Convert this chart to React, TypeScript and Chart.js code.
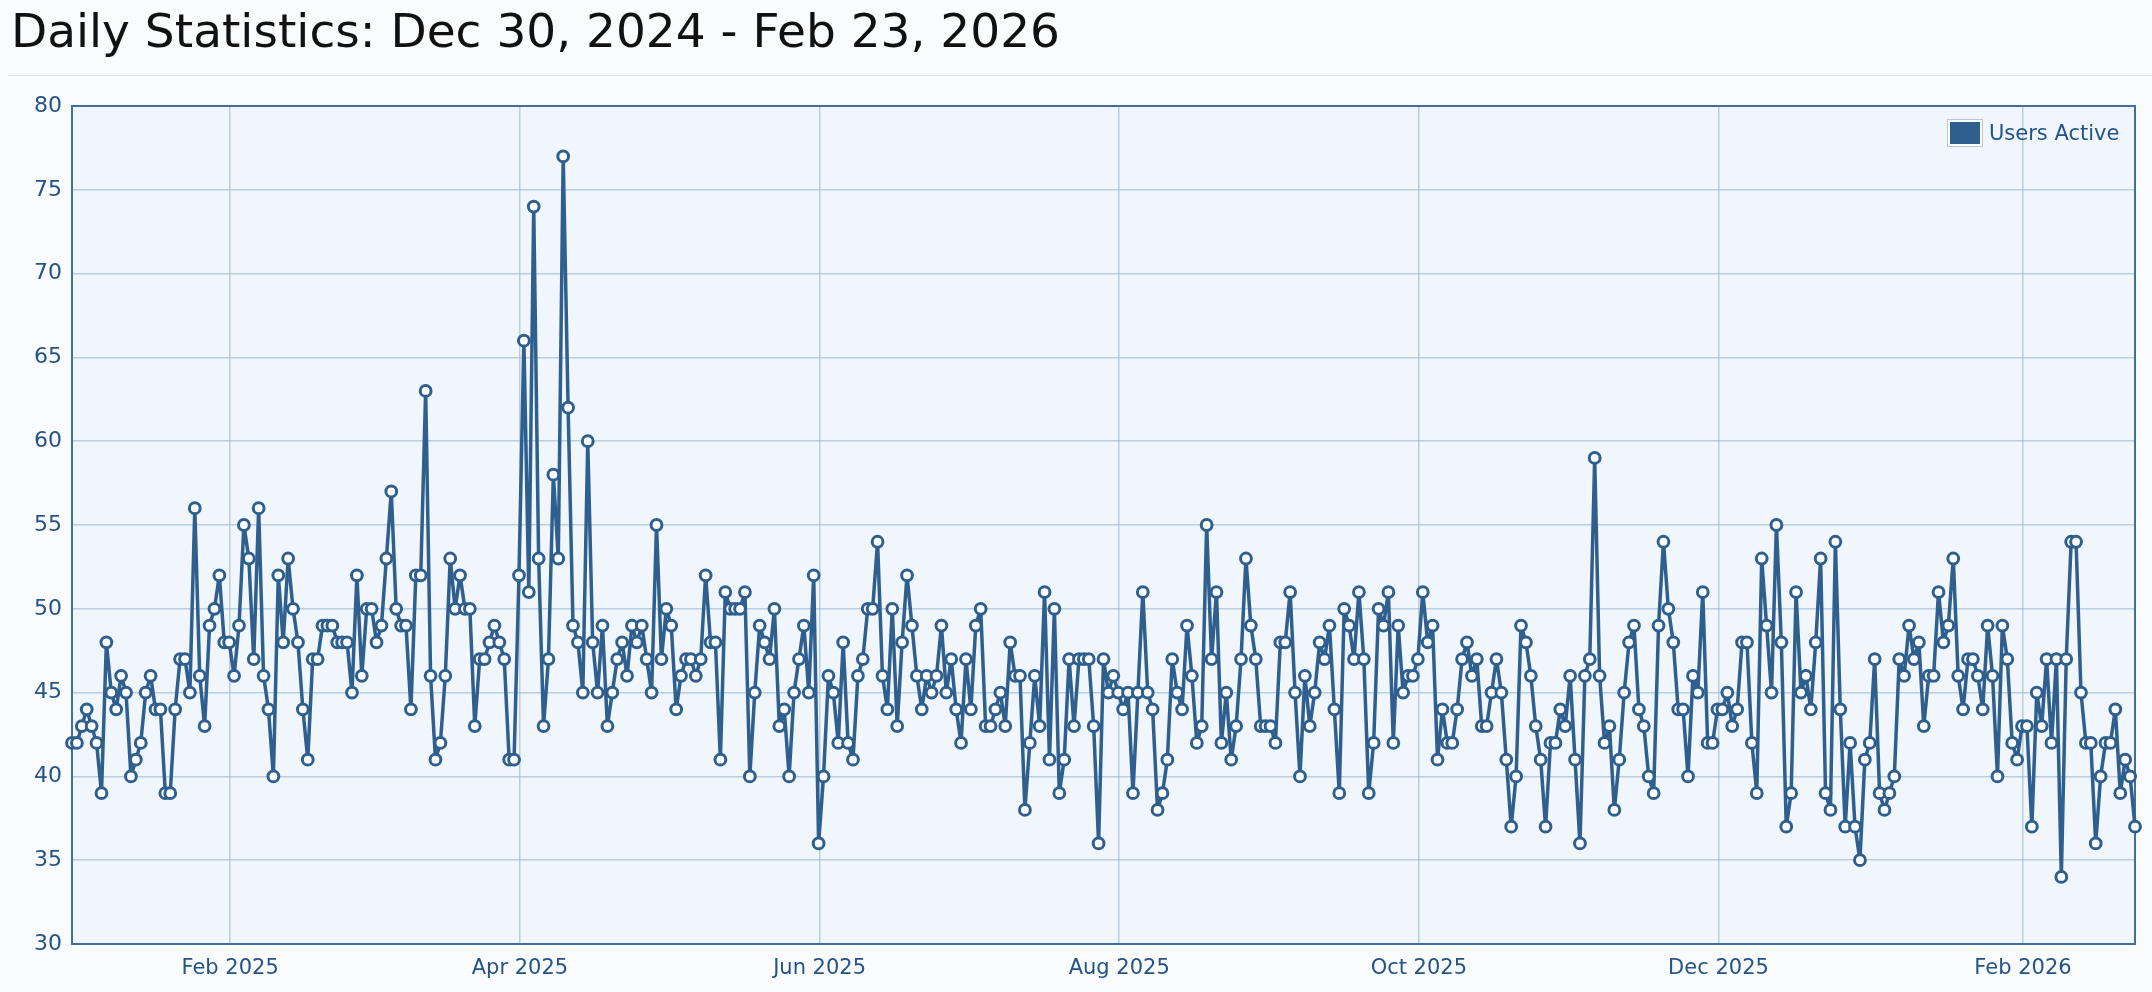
import React, { useEffect, useRef } from 'react';
import { Chart, registerables } from 'chart.js';

Chart.register(...registerables);

// ---- Data (one value per day, Dec 30, 2024 .. Feb 23, 2026) ----
const CHART_TITLE = 'Daily Statistics: Dec 30, 2024 - Feb 23, 2026';
const SERIES_LABEL = 'Users Active';

const USERS_ACTIVE: number[] = [
  // Dec 30 2024 ..
  42, 42, 43, 44, 43, 42, 39, 48, 45, 44, 46, 45, 40, 41, 42, 45, 46, 44, 44, 39, 39, 44, 47, 47, 45, 56, 46, 43, 49, 50, 52, 48, 48, 46, 49, 55,
  53, 47, 56, 46, 44, 40, 52, 48, 53, 50, 48, 44, 41, 47, 47, 49, 49, 49, 48, 48, 48, 45, 52, 46, 50, 50, 48, 49, 53, 57, 50, 49, 49, 44, 52,
  52, 63, 46, 41, 42, 46, 53, 50, 52, 50, 50, 43, 47, 47, 48, 49, 48, 47, 41, 41, 52, 66, 51, 74, 53, 43, 47, 58, 53, 77, 62, 49, 48, 45, 60,
  48, 45, 49, 43, 45, 47, 48, 46, 49, 48, 49, 47, 45, 55, 47, 50, 49, 44, 46, 47, 47, 46, 47, 52, 48, 48, 41, 51, 50, 50, 50, 51, 40,
  45, 49, 48, 47, 50, 43, 44, 40, 45, 47, 49, 45, 52, 36, 40, 46, 45, 42, 48, 42, 41, 46, 47, 50, 50, 54, 46, 44, 50, 43, 48, 52,
  49, 46, 44, 46, 45, 46, 49, 45, 47, 44, 42, 47, 44, 49, 50, 43, 43, 44, 45, 43, 48, 46, 46, 38, 42, 46, 43, 51, 41, 50, 39, 41, 47, 43, 47, 47, 47, 43, 36,
  47, 45, 46, 45, 44, 45, 39, 45, 51, 45, 44, 38, 39, 41, 47, 45, 44, 49, 46, 42, 43, 55, 47, 51, 42, 45, 41, 43, 47, 53, 49, 47, 43, 43,
  43, 42, 48, 48, 51, 45, 40, 46, 43, 45, 48, 47, 49, 44, 39, 50, 49, 47, 51, 47, 39, 42, 50, 49, 51, 42, 49, 45, 46, 46, 47, 51, 48, 49, 41,
  44, 42, 42, 44, 47, 48, 46, 47, 43, 43, 45, 47, 45, 41, 37, 40, 49, 48, 46, 43, 41, 37, 42, 42, 44, 43, 46, 41, 36, 46, 47, 59,
  46, 42, 43, 38, 41, 45, 48, 49, 44, 43, 40, 39, 49, 54, 50, 48, 44, 44, 40, 46, 45, 51, 42, 42, 44, 44, 45, 43, 44, 48, 48, 42, 39, 53, 49,
  45, 55, 48, 37, 39, 51, 45, 46, 44, 48, 53, 39, 38, 54, 44, 37, 42, 37, 35, 41, 42, 47, 39, 38, 39, 40, 47, 46, 49, 47, 48, 43, 46, 46, 51, 48, 49,
  53, 46, 44, 47, 47, 46, 44, 49, 46, 40, 49, 47, 42, 41, 43, 43, 37, 45, 43, 47, 42, 47, 34, 47, 54, 54, 45, 42, 42, 36, 40, 42, 42, 44, 39, 41, 40, 37,
];

// Month tick positions, in days since Dec 30, 2024
const MONTH_TICK_DAYS = [33, 92, 153, 214, 275, 336, 398];
const MONTH_TICK_LABELS = ['Feb 2025', 'Apr 2025', 'Jun 2025', 'Aug 2025', 'Oct 2025', 'Dec 2025', 'Feb 2026'];
const TICK_DAY_SHIFT = -0.8; // month gridlines sit slightly before the day's point
const Y_MIN = 30;
const Y_MAX = 80;
const Y_STEP = 5;

// ---- Styles ----
const LINE_COLOR = '#2e5f8e';
const PLOT_BG = '#f0f6fc';
const PAGE_BG = '#fafbfd';
const FRAME_COLOR = '#3f6f9c';
const GRID_COLOR = 'rgba(150, 180, 208, 0.6)';
const TICK_COLOR = '#245487';
const FONT = 'DejaVu Sans';

const plotFrame = {
  id: 'plotFrame',
  beforeDraw(chart: any) {
    const { ctx, chartArea } = chart;
    if (!chartArea) return;
    ctx.save();
    ctx.fillStyle = PLOT_BG;
    ctx.fillRect(chartArea.left, chartArea.top, chartArea.right - chartArea.left, chartArea.bottom - chartArea.top);
    ctx.restore();
  },
  beforeDatasetsDraw(chart: any) {
    const { ctx, chartArea } = chart;
    if (!chartArea) return;
    ctx.save();
    ctx.strokeStyle = FRAME_COLOR;
    ctx.lineWidth = 2;
    ctx.strokeRect(chartArea.left, chartArea.top, chartArea.right - chartArea.left, chartArea.bottom - chartArea.top);
    ctx.restore();
  },
};

function UsersChart() {
  const ref = useRef<HTMLCanvasElement | null>(null);
  useEffect(() => {
    if (!ref.current) return;
    const points = USERS_ACTIVE.map((v, i) => ({ x: i, y: v }));
    const chart = new Chart(ref.current, {
      type: 'line',
      data: {
        datasets: [
          {
            label: SERIES_LABEL,
            data: points,
            borderColor: LINE_COLOR,
            borderWidth: 3.5,
            borderJoinStyle: 'round',
            borderCapStyle: 'round',
            pointRadius: 5.4,
            pointBorderWidth: 3,
            pointBackgroundColor: '#ffffff',
            pointBorderColor: LINE_COLOR,
            tension: 0,
            clip: 12,
          } as any,
        ],
      },
      options: {
        responsive: false,
        animation: false,
        devicePixelRatio: 1,
        layout: { padding: { top: 106, right: 17, bottom: 0, left: 0 } },
        plugins: {
          legend: { display: false },
          title: { display: false },
          tooltip: { enabled: false },
        },
        scales: {
          x: {
            type: 'linear',
            min: 0,
            max: USERS_ACTIVE.length - 1,
            afterBuildTicks: (scale: any) => {
              scale.ticks = MONTH_TICK_DAYS.map((d) => ({ value: d + TICK_DAY_SHIFT }));
            },
            afterFit: (scale: any) => {
              scale.height = 48;
            },
            border: { display: false },
            grid: { color: GRID_COLOR, lineWidth: 1.5, drawTicks: false },
            ticks: {
              padding: 12,
              color: TICK_COLOR,
              font: { family: FONT, size: 21 },
              maxRotation: 0,
              autoSkip: false,
              callback: (_v: any, i: number) => MONTH_TICK_LABELS[i],
            },
          },
          y: {
            min: Y_MIN,
            max: Y_MAX,
            afterFit: (scale: any) => {
              scale.width = 72;
            },
            border: { display: false },
            grid: { color: GRID_COLOR, lineWidth: 1.5, drawTicks: false },
            ticks: {
              stepSize: Y_STEP,
              padding: 10,
              color: TICK_COLOR,
              font: { family: FONT, size: 22 },
            },
          },
        },
      } as any,
      plugins: [plotFrame],
    });
    return () => chart.destroy();
  }, []);
  return (
    <canvas
      ref={ref}
      width={2152}
      height={992}
      style={{ position: 'absolute', left: 0, top: 0, width: 2152, height: 992 }}
    />
  );
}

export default function App() {
  return (
    <div style={{ position: 'fixed', left: 0, top: 0, width: 2152, height: 992, background: PAGE_BG, overflow: 'hidden' }}>
      <UsersChart />
      <div
        style={{
          position: 'absolute',
          left: 11,
          top: 7,
          fontFamily: FONT,
          fontSize: 47,
          lineHeight: '47px',
          color: '#111111',
          whiteSpace: 'nowrap',
        }}
      >
        {CHART_TITLE}
      </div>
      <div style={{ position: 'absolute', left: 8, right: 0, top: 75, height: 1, background: '#dce3ea' }} />
      <div
        style={{
          position: 'absolute',
          left: 1947,
          top: 119,
          display: 'flex',
          alignItems: 'center',
          fontFamily: FONT,
          fontSize: 21,
          color: TICK_COLOR,
        }}
      >
        <div style={{ border: '1px solid #b9c6d3', padding: 2, background: '#ffffff', marginRight: 6 }}>
          <div style={{ width: 30, height: 22, background: LINE_COLOR }} />
        </div>
        <span>{SERIES_LABEL}</span>
      </div>
    </div>
  );
}
